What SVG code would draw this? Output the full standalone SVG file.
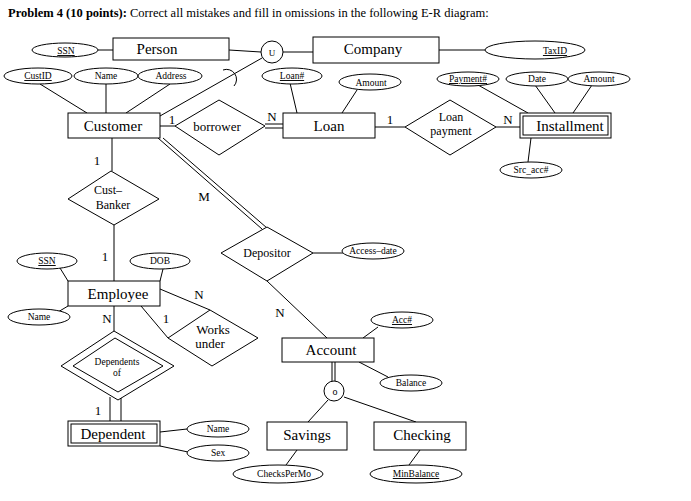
<svg xmlns="http://www.w3.org/2000/svg" width="691" height="501" viewBox="0 0 691 501">
<style>
text{font-family:"Liberation Serif",serif;fill:#000;text-anchor:middle}
.b{font-size:15px}.s{font-size:9.5px}.m{font-size:12px}
rect,ellipse,circle,path,polygon{fill:#fff;stroke:#000;stroke-width:1}
line,polyline{stroke:#000;stroke-width:1;fill:none}
</style>
<rect x="0" y="0" width="691" height="501" style="fill:#fff;stroke:none"/>
<text x="8" y="17" style="text-anchor:start;font-size:12.5px"><tspan font-weight="bold">Problem 4 (10 points):</tspan> Correct all mistakes and fill in omissions in the following E-R diagram:</text>
<g id="connectors">
<line x1="98" y1="50" x2="113" y2="50"/>
<line x1="229" y1="50" x2="261" y2="52"/>
<line x1="283" y1="52" x2="313" y2="52"/>
<line x1="439" y1="50" x2="485" y2="50"/>
<path d="M223 70 A10 10 0 0 1 234 86" style="fill:none"/>
<line x1="160" y1="116" x2="262" y2="58"/>
<line x1="40" y1="84" x2="87" y2="113"/>
<line x1="106" y1="84" x2="106" y2="113"/>
<line x1="170" y1="84" x2="126" y2="113"/>
<line x1="160" y1="126" x2="175" y2="126"/>
<line x1="265" y1="124" x2="283" y2="124"/>
<line x1="265" y1="128" x2="283" y2="128"/>
<line x1="290" y1="83" x2="297" y2="113"/>
<line x1="357" y1="90" x2="342" y2="113"/>
<line x1="375" y1="127" x2="405" y2="127"/>
<line x1="496" y1="127" x2="520" y2="127"/>
<line x1="478" y1="85" x2="528" y2="113"/>
<line x1="535" y1="85" x2="555" y2="113"/>
<line x1="592" y1="85" x2="573" y2="113"/>
<line x1="531" y1="138" x2="528" y2="162"/>
<line x1="112" y1="138" x2="112" y2="171"/>
<line x1="114" y1="225" x2="114" y2="281"/>
<line x1="158" y1="138" x2="262" y2="229"/>
<line x1="163" y1="138" x2="267" y2="228"/>
<line x1="313" y1="253" x2="343" y2="253"/>
<line x1="267" y1="281" x2="327" y2="338"/>
<line x1="363" y1="338" x2="378" y2="327"/>
<line x1="359" y1="362" x2="388" y2="377"/>
<line x1="332" y1="362" x2="332" y2="381"/>
<line x1="335" y1="362" x2="335" y2="381"/>
<line x1="328" y1="400" x2="308" y2="422"/>
<line x1="344" y1="397" x2="416" y2="422"/>
<line x1="297" y1="450" x2="286" y2="465"/>
<line x1="420" y1="450" x2="409" y2="465"/>
<line x1="60" y1="268" x2="68" y2="281"/>
<line x1="163" y1="269" x2="160" y2="281"/>
<line x1="58" y1="312" x2="68" y2="306"/>
<line x1="160" y1="289" x2="210" y2="310"/>
<line x1="141" y1="306" x2="168" y2="338"/>
<line x1="114" y1="306" x2="114" y2="331"/>
<line x1="110" y1="397" x2="110" y2="421"/>
<line x1="121" y1="397" x2="121" y2="421"/>
<line x1="160" y1="432" x2="187" y2="429"/>
<line x1="160" y1="446" x2="188" y2="452"/>
</g>
<g id="labels">
<text x="172" y="124" style="font-size:13px">1</text>
<text x="272" y="121" style="font-size:13px">N</text>
<text x="390" y="124" style="font-size:13px">1</text>
<text x="508" y="124" style="font-size:13px">N</text>
<text x="97" y="165" style="font-size:13px">1</text>
<text x="105" y="261" style="font-size:13px">1</text>
<text x="204" y="201" style="font-size:13px">M</text>
<text x="280" y="317" style="font-size:13px">N</text>
<text x="199" y="299" style="font-size:13px">N</text>
<text x="166" y="323" style="font-size:13px">1</text>
<text x="107" y="323" style="font-size:13px">N</text>
<text x="98" y="415" style="font-size:13px">1</text>
</g>
<g id="Person"><rect x="113" y="38" width="116" height="22"/><text x="157" y="54" class="b">Person</text></g>
<g id="SSN1"><ellipse cx="65" cy="50" rx="33" ry="7"/><text x="66" y="54" class="s" text-decoration="underline">SSN</text></g>
<g id="union"><circle cx="272" cy="52" r="11"/><text x="272" y="56" style="font-size:9px">U</text></g>
<g id="Company"><rect x="313" y="37" width="126" height="26"/><text x="373" y="54" class="b">Company</text></g>
<g id="TaxID"><ellipse cx="535" cy="50" rx="50" ry="9"/><text x="555" y="54" class="s" text-decoration="underline">TaxID</text></g>
<g id="CustID"><ellipse cx="38" cy="76" rx="34" ry="8"/><text x="38" y="79" class="s" text-decoration="underline">CustID</text></g>
<g id="Name1"><ellipse cx="106" cy="76" rx="32" ry="8"/><text x="106" y="79" class="s">Name</text></g>
<g id="Address"><ellipse cx="170" cy="76" rx="32" ry="8"/><text x="171" y="79" class="s">Address</text></g>
<g id="Customer"><rect x="68" y="113" width="92" height="25"/><text x="113" y="131" class="b">Customer</text></g>
<g id="borrower"><polygon points="175,126 219,100 265,126 219,155"/><text x="217" y="131" style="font-size:13px">borrower</text></g>
<g id="Loan"><rect x="283" y="113" width="92" height="25"/><text x="329" y="131" class="b">Loan</text></g>
<g id="LoanNo"><ellipse cx="292" cy="76" rx="30" ry="8"/><text x="292" y="79" class="s" text-decoration="underline">Loan#</text></g>
<g id="Amount1"><ellipse cx="370" cy="82" rx="31" ry="8"/><text x="371" y="86" class="s">Amount</text></g>
<g id="LoanPayment"><polygon points="405,127 450,100 496,127 450,155"/><text x="451" y="121" style="font-size:12px">Loan</text><text x="451" y="135" style="font-size:12px">payment</text></g>
<g id="Installment"><rect x="520" y="113" width="91" height="25"/><rect x="523" y="116" width="85" height="19"/><text x="570" y="131" class="b">Installment</text></g>
<g id="PaymentNo"><ellipse cx="468" cy="79" rx="31" ry="7"/><text x="468" y="82" class="s" text-decoration="underline">Payment#</text></g>
<g id="Date"><ellipse cx="537" cy="79" rx="31" ry="7"/><text x="537" y="82" class="s">Date</text></g>
<g id="Amount2"><ellipse cx="599" cy="79" rx="31" ry="7"/><text x="599" y="82" class="s">Amount</text></g>
<g id="SrcAcc"><ellipse cx="531" cy="170" rx="31" ry="8"/><text x="531" y="173" class="s">Src_acc#</text></g>
<g id="CustBanker"><polygon points="68,199 111,171 159,199 114,225"/><text x="108" y="194" class="m">Cust–</text><text x="113" y="209" class="m">Banker</text></g>
<g id="Depositor"><polygon points="221,253 267,227 313,253 267,281"/><text x="267" y="257" class="m">Depositor</text></g>
<g id="AccessDate"><ellipse cx="373" cy="251" rx="31" ry="8"/><text x="373" y="254" class="s">Access–date</text></g>
<g id="Account"><rect x="282" y="338" width="92" height="24"/><text x="331" y="355" class="b">Account</text></g>
<g id="AccNo"><ellipse cx="402" cy="320" rx="31" ry="8"/><text x="402" y="323" class="s" text-decoration="underline">Acc#</text></g>
<g id="Balance"><ellipse cx="411" cy="383" rx="31" ry="8"/><text x="411" y="386" class="s">Balance</text></g>
<g id="overlap"><circle cx="334" cy="391" r="10"/><text x="335" y="395" style="font-size:10px">o</text></g>
<g id="Savings"><rect x="267" y="422" width="80" height="28"/><text x="307" y="440" class="b">Savings</text></g>
<g id="Checking"><rect x="374" y="422" width="92" height="28"/><text x="422" y="440" class="b">Checking</text></g>
<g id="ChecksPerMo"><ellipse cx="278" cy="474" rx="45" ry="9"/><text x="284" y="477" class="s">ChecksPerMo</text></g>
<g id="MinBalance"><ellipse cx="416" cy="474" rx="46" ry="9"/><text x="416" y="477" class="s" text-decoration="underline">MinBalance</text></g>
<g id="Employee"><rect x="68" y="281" width="92" height="25"/><text x="118" y="299" class="b">Employee</text></g>
<g id="SSN2"><ellipse cx="47" cy="261" rx="30" ry="8"/><text x="47" y="264" class="s" text-decoration="underline">SSN</text></g>
<g id="DOB"><ellipse cx="160" cy="261" rx="30" ry="8"/><text x="160" y="264" class="s">DOB</text></g>
<g id="Name2"><ellipse cx="39" cy="317" rx="31" ry="8"/><text x="39" y="320" class="s">Name</text></g>
<g id="WorksUnder"><polygon points="168,338 210,310 258,338 212,366"/><text x="213" y="334" style="font-size:13px">Works</text><text x="210" y="348" style="font-size:13px">under</text></g>
<g id="DependentsOf"><polygon points="61,366 114,331 174,366 118,400"/><polygon points="73,366 115,338 163,366 118,392"/><text x="117" y="365" class="s">Dependents</text><text x="117" y="376" class="s">of</text></g>
<g id="Dependent"><rect x="68" y="421" width="92" height="25"/><rect x="71" y="424" width="86" height="19"/><text x="113" y="439" class="b">Dependent</text></g>
<g id="Name3"><ellipse cx="218" cy="429" rx="31" ry="8"/><text x="218" y="432" class="s">Name</text></g>
<g id="Sex"><ellipse cx="218" cy="453" rx="31" ry="8"/><text x="218" y="456" class="s">Sex</text></g>
</svg>
